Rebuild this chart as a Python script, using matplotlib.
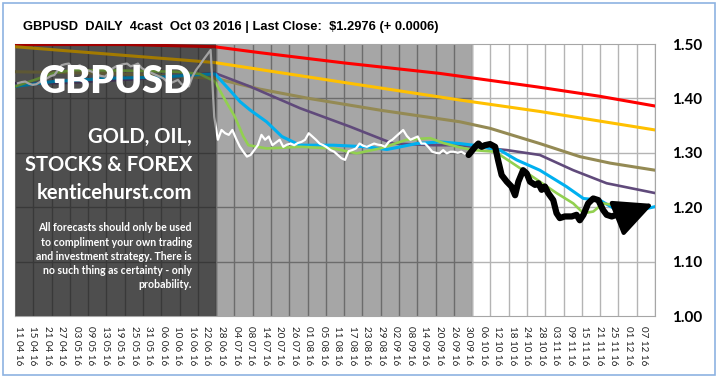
"""GBPUSD daily 4cast chart, Oct 03 2016."""

import matplotlib.pyplot as plt
import numpy as np
from matplotlib.patches import Rectangle

# x axis = trading day index, 0 = 11 Apr 2016, labels every 4 days
tick_labels = [
    "11 04 16", "15 04 16", "21 04 16", "27 04 16", "03 05 16", "09 05 16",
    "13 05 16", "19 05 16", "25 05 16", "31 05 16", "06 06 16", "10 06 16",
    "16 06 16", "22 06 16", "28 06 16", "04 07 16", "08 07 16", "14 07 16",
    "20 07 16", "26 07 16", "01 08 16", "05 08 16", "11 08 16", "17 08 16",
    "23 08 16", "29 08 16", "02 09 16", "08 09 16", "14 09 16", "20 09 16",
    "26 09 16", "30 09 16", "06 10 16", "12 10 16", "18 10 16", "24 10 16",
    "28 10 16", "03 11 16", "09 11 16", "15 11 16", "21 11 16", "25 11 16",
    "01 12 16", "07 12 16",
]
y_ticks = [1.00, 1.10, 1.20, 1.30, 1.40, 1.50]

# daily closes 11 Apr - 30 Sep 2016
actual_close = [
    1.428, 1.430, 1.431, 1.427, 1.425, 1.426, 1.430, 1.434, 1.437, 1.441,
    1.443, 1.452, 1.461, 1.463, 1.464, 1.456, 1.458, 1.461, 1.455, 1.452,
    1.450, 1.447, 1.443, 1.441, 1.440, 1.447, 1.455, 1.459, 1.461, 1.463,
    1.464, 1.459, 1.461, 1.464, 1.456, 1.452, 1.449, 1.446, 1.443, 1.440,
    1.437, 1.431, 1.428, 1.431, 1.434, 1.426, 1.424, 1.422, 1.440, 1.452,
    1.461, 1.471, 1.480, 1.489, 1.366, 1.324, 1.342, 1.336, 1.333, 1.342,
    1.326, 1.312, 1.302, 1.293, 1.296, 1.305, 1.314, 1.333, 1.324, 1.330,
    1.314, 1.319, 1.324, 1.311, 1.315, 1.317, 1.314, 1.318, 1.320, 1.324,
    1.336, 1.330, 1.324, 1.317, 1.314, 1.310, 1.305, 1.302, 1.296, 1.290,
    1.287, 1.303, 1.305, 1.308, 1.317, 1.313, 1.311, 1.314, 1.317, 1.315,
    1.314, 1.311, 1.320, 1.324, 1.330, 1.336, 1.342, 1.331, 1.324, 1.327,
    1.330, 1.317, 1.317, 1.310, 1.302, 1.300, 1.299, 1.305, 1.299, 1.302,
    1.302, 1.300, 1.302, 1.298, 1.296,
]

# the 4cast path
forecast_x = [124, 125.8, 126.7, 127.6, 128.5, 129.9, 131.3, 132.2, 133.1, 134.5,
              135.8, 136.8, 137.7, 139.0, 140.0, 140.9, 142.3, 143.2, 144.1, 145.0,
              145.9, 147.3, 148.2, 149.1, 150.5, 152.4, 153.7, 154.6, 155.6, 156.9,
              158.3, 159.7, 161.0, 162.0, 163.4, 164.7, 166.1]
forecast_y = [1.296, 1.311, 1.317, 1.311, 1.314, 1.316, 1.311, 1.284, 1.259, 1.247,
              1.238, 1.222, 1.247, 1.268, 1.262, 1.247, 1.241, 1.244, 1.232, 1.238,
              1.226, 1.213, 1.189, 1.180, 1.183, 1.183, 1.186, 1.176, 1.186, 1.207,
              1.216, 1.213, 1.195, 1.186, 1.183, 1.186, 1.183]
arrow_tip = (174.8, 1.206)

# moving averages
red_x = [-0.8, 30, 54, 66.6, 90, 116, 143, 160, 175.3]
red_y = [1.499, 1.499, 1.495, 1.484, 1.465, 1.446, 1.421, 1.404, 1.386]

orange_x = [-0.8, 54, 90, 121.6, 143.6, 175.3]
orange_y = [1.495, 1.466, 1.429, 1.397, 1.376, 1.342]

olive_x = [-0.8, 25, 54.2, 66.6, 80, 100, 121.6, 129.9, 143.6, 154.6, 163, 175.3]
olive_y = [1.449, 1.446, 1.437, 1.417, 1.400, 1.378, 1.357, 1.345, 1.317, 1.293, 1.281, 1.268]

purple_x = [-0.8, 12, 34, 48, 54, 63.8, 77.6, 91.4, 100.5, 103.3, 114.3, 121.6,
            125.3, 134.5, 143.6, 152.8, 162, 175.3]
purple_y = [1.428, 1.428, 1.436, 1.443, 1.447, 1.422, 1.382, 1.348, 1.324, 1.317,
            1.314, 1.314, 1.311, 1.305, 1.296, 1.268, 1.244, 1.226]

blue_x = [-0.8, 9.7, 25.3, 39, 48.2, 54.2, 58.3, 61.1, 63.8, 68.4, 72.6, 77.6, 86.8,
          96, 101.5, 109.7, 116.1, 121.6, 125.3, 132.6, 137.2, 143.6, 150.9, 155.6,
          160.1, 164.7, 169.3, 175.3]
blue_y = [1.422, 1.431, 1.437, 1.439, 1.443, 1.445, 1.415, 1.394, 1.379, 1.357, 1.330,
          1.314, 1.314, 1.311, 1.306, 1.317, 1.320, 1.317, 1.314, 1.305, 1.287, 1.268,
          1.238, 1.216, 1.213, 1.195, 1.192, 1.201]

green_x = [-0.8, 5, 10, 15.2, 29.9, 43.7, 50, 54.2, 56.5, 59.7, 62.0, 63.4, 68.4,
           77.6, 86.8, 93.2, 99.6, 107, 113.4, 117, 121.6, 125.3, 131.3, 135.4,
           138.1, 143.6, 148.2, 152.8, 155.6, 158.3, 161, 163]
green_y = [1.422, 1.435, 1.447, 1.452, 1.451, 1.449, 1.445, 1.431, 1.403, 1.366,
           1.330, 1.314, 1.308, 1.311, 1.308, 1.299, 1.308, 1.324, 1.327, 1.318,
           1.310, 1.305, 1.302, 1.284, 1.272, 1.247, 1.226, 1.207, 1.189, 1.192,
           1.207, 1.205]

disclaimer = [
    "All forecasts should only be used",
    "to compliment your own trading",
    "and investment strategy. There is",
    "no such thing as certainty - only",
    "probability.",
]

W, H = 720, 377
fig = plt.figure(figsize=(W / 100, H / 100), dpi=100)
ax = fig.add_axes([15 / W, 61 / H, 640 / W, 272 / H])

xmin, xmax = -0.83, 175.3
ax.set_xlim(xmin, xmax)
ax.set_ylim(1.0, 1.5)

grid_x = np.linspace(xmin, xmax, 36)
dark_end, light_end = grid_x[11], grid_x[25]

# backgrounds
ax.axvspan(xmin, dark_end, color="#7b7b7b", lw=0, zorder=0)
ax.axvspan(dark_end, light_end, color="#a6a6a6", lw=0, zorder=0)

regions = [(xmin, dark_end, "#5a5a5a"), (dark_end, light_end, "#6c6c6c"),
           (light_end, xmax, "#b4b4b4")]
for a, b, c in regions:
    gx = grid_x[(grid_x >= a - 1e-6) & (grid_x <= b + 1e-6)]
    ax.vlines(gx, 1.0, 1.5, color=c, lw=1.0, zorder=1)
    ax.hlines([1.1, 1.2, 1.3, 1.4], a, b, color=c, lw=1.0, zorder=1)

ax.plot(red_x, red_y, color="#ff0000", lw=2.2, zorder=3)
ax.plot(orange_x, orange_y, color="#ffc000", lw=2.2, zorder=3)
ax.plot(olive_x, olive_y, color="#948a54", lw=2.2, zorder=3)
ax.plot(purple_x, purple_y, color="#604a7b", lw=1.9, zorder=3)
ax.plot(blue_x, blue_y, color="#00b0f0", lw=2.2, zorder=3)
ax.plot(green_x, green_y, color="#92d050", lw=1.9, zorder=3)
ax.plot(np.arange(len(actual_close)), actual_close, color="white", lw=1.6, zorder=4)

# darken the older history
ax.axvspan(xmin, dark_end, color="black", alpha=0.36, lw=0, zorder=5)

ax.plot(forecast_x, forecast_y, color="black", lw=4.5, zorder=6,
        solid_joinstyle="round", solid_capstyle="round")
ax.annotate("", xy=arrow_tip, xytext=(forecast_x[-1], forecast_y[-1]),
            arrowprops=dict(arrowstyle="-|>,head_length=1.2,head_width=0.58",
                            color="black", lw=3, mutation_scale=20,
                            shrinkA=0, shrinkB=0),
            zorder=7)

for s in ax.spines.values():
    s.set_color("#a6a6a6")
    s.set_linewidth(0.8)

ax.yaxis.tick_right()
ax.set_yticks(y_ticks)
ax.set_yticklabels([f"{v:.2f}" for v in y_ticks], family="Lato",
                   fontweight="bold", fontsize=11)
ax.tick_params(axis="y", length=0, pad=12)

ax.set_xticks(np.arange(len(tick_labels)) * 4)
ax.set_xticklabels(tick_labels, rotation=-90, family="Lato", fontsize=7.1,
                   color="#222222")
ax.tick_params(axis="x", length=0, pad=7)

fig.text(23 / W, 1 - 27 / H,
         "GBPUSD  DAILY  4cast  Oct 03 2016 | Last Close:  $1.2976 (+ 0.0006)",
         family="Liberation Sans", fontweight="bold", fontsize=9.3,
         va="center", ha="left")

rx = 192 / W
fig.text(rx, 1 - 82 / H, "GBPUSD", color="white", family="Lato",
         fontweight="heavy", fontsize=27, ha="right", va="center")
for i, line in enumerate(["GOLD, OIL,", "STOCKS & FOREX", "kenticehurst.com"]):
    fig.text(rx, 1 - (137 + 28 * i) / H, line, color="white", family="Lato",
             fontweight="bold", fontsize=14.5, ha="right", va="center")
for i, line in enumerate(disclaimer):
    fig.text(rx, 1 - (228 + 14.2 * i) / H, line, color="white", family="Lato",
             fontweight="bold", fontsize=7.6, ha="right", va="center")

fig.patches.append(Rectangle((3 / W, 2 / H), 712 / W, 372 / H,
                             transform=fig.transFigure, fill=False,
                             edgecolor="#8db3e2", lw=1.2))

fig.savefig("out.png", dpi=100)
